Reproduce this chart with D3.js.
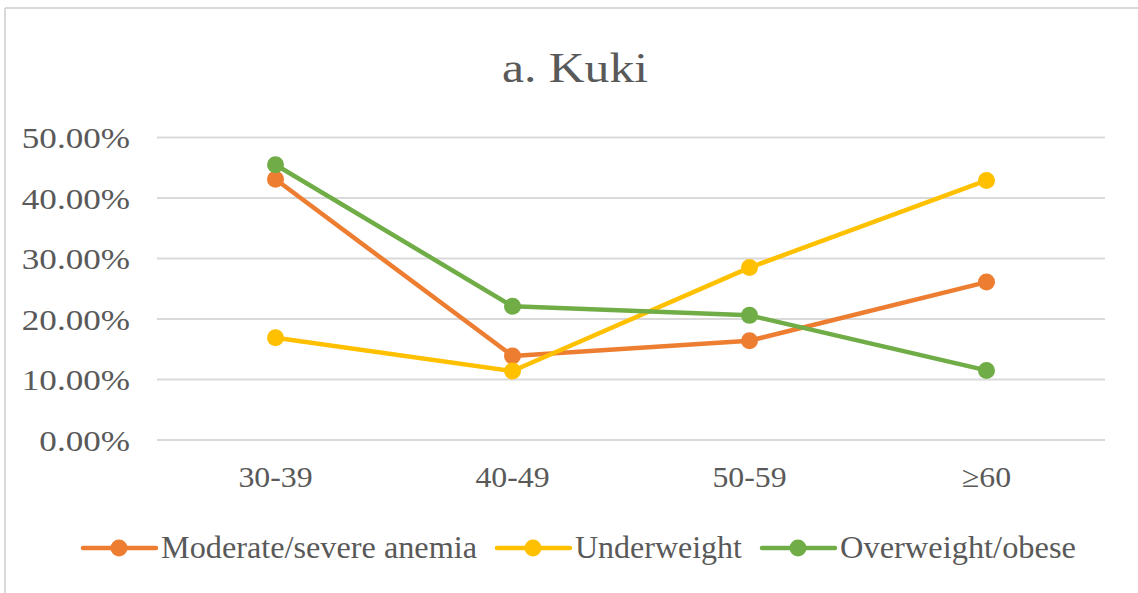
<!DOCTYPE html>
<html><head><meta charset="utf-8">
<script src="https://cdn.jsdelivr.net/npm/d3@7"></script>
<style>
html,body{margin:0;padding:0;background:#fff;}
svg{display:block;}
text{font-family:"Liberation Serif","Times New Roman",serif;fill:#595959;}
</style></head>
<body>
<svg id="chart" width="1138" height="593"></svg>
<script>
const title = "a. Kuki";
const categories = ["30-39", "40-49", "50-59", "\u226560"];
const seriesNames = ["Moderate/severe anemia", "Underweight", "Overweight/obese"];
const anemia = [0.431, 0.139, 0.164, 0.261];
const underweight = [0.169, 0.114, 0.285, 0.429];
const overweight = [0.455, 0.221, 0.206, 0.115];
const colors = ["#ED7D31", "#FFC000", "#70AD47"];
const yTicks = [0, 0.1, 0.2, 0.3, 0.4, 0.5];

const series = [anemia, underweight, overweight].map((v, i) => ({name: seriesNames[i], values: v, color: colors[i]}));

const svg = d3.select("#chart");

// outer border (top & left visible)
svg.append("line").attr("x1", 5).attr("x2", 1138).attr("y1", 8).attr("y2", 8).attr("stroke", "#d9d9d9").attr("stroke-width", 2);
svg.append("line").attr("x1", 5).attr("x2", 5).attr("y1", 8).attr("y2", 593).attr("stroke", "#d9d9d9").attr("stroke-width", 2);

const x = d3.scaleBand().domain(categories).range([157, 1105]).padding(0);
const y = d3.scaleLinear().domain([0, 0.5]).range([440, 137.5]);

// title
svg.append("text").attr("x", 575).attr("y", 82).attr("text-anchor", "middle")
  .attr("font-size", 42).attr("textLength", 146).attr("lengthAdjust", "spacingAndGlyphs").text(title);

// gridlines
svg.append("g").selectAll("line").data(yTicks).join("line")
  .attr("x1", 157).attr("x2", 1105)
  .attr("y1", d => y(d)).attr("y2", d => y(d))
  .attr("stroke", "#d9d9d9").attr("stroke-width", 2);

// y axis labels
const yAxis = svg.append("g").attr("transform", "translate(157,0)")
  .call(d3.axisLeft(y).tickValues(yTicks).tickFormat(d3.format(".2%")).tickSize(0).tickPadding(27));
yAxis.select(".domain").remove();
yAxis.selectAll("text").attr("font-size", 30).attr("fill", "#595959")
  .style("font-family", '"Liberation Serif", serif').attr("dy", "0.34em")
  .each(function() { const w = this.getComputedTextLength(); d3.select(this).attr("textLength", w * 1.17).attr("lengthAdjust", "spacingAndGlyphs"); });

// x axis labels
const xAxis = svg.append("g").attr("transform", "translate(0,440)")
  .call(d3.axisBottom(x).tickSize(0).tickPadding(26));
xAxis.select(".domain").remove();
xAxis.selectAll("text").attr("font-size", 30).attr("fill", "#595959")
  .style("font-family", '"Liberation Serif", serif').attr("dy", "0.71em")
  .each(function() { const w = this.getComputedTextLength(); d3.select(this).attr("textLength", w * 1.06).attr("lengthAdjust", "spacingAndGlyphs"); });

// lines
const line = d3.line().x((d, i) => x(categories[i]) + x.bandwidth() / 2).y(d => y(d));
const g = svg.append("g");
series.forEach(s => {
  g.append("path").attr("d", line(s.values)).attr("fill", "none")
    .attr("stroke", s.color).attr("stroke-width", 4.5).attr("stroke-linejoin", "round").attr("stroke-linecap", "round");
});
series.forEach(s => {
  g.selectAll(null).data(s.values).join("circle")
    .attr("cx", (d, i) => x(categories[i]) + x.bandwidth() / 2)
    .attr("cy", d => y(d)).attr("r", 8.5).attr("fill", s.color);
});

// legend
const legendX = [83, 497, 762];
const legendTextW = [316, 167, 236];
const leg = svg.append("g");
series.forEach((s, i) => {
  const lx = legendX[i];
  leg.append("line").attr("x1", lx).attr("x2", lx + 73).attr("y1", 548).attr("y2", 548)
    .attr("stroke", s.color).attr("stroke-width", 4.5).attr("stroke-linecap", "round");
  leg.append("circle").attr("cx", lx + 36).attr("cy", 548).attr("r", 8.5).attr("fill", s.color);
  leg.append("text").attr("x", lx + 78).attr("y", 558).attr("font-size", 31)
    .attr("textLength", legendTextW[i]).attr("lengthAdjust", "spacingAndGlyphs").text(s.name);
});
</script>
</body></html>
